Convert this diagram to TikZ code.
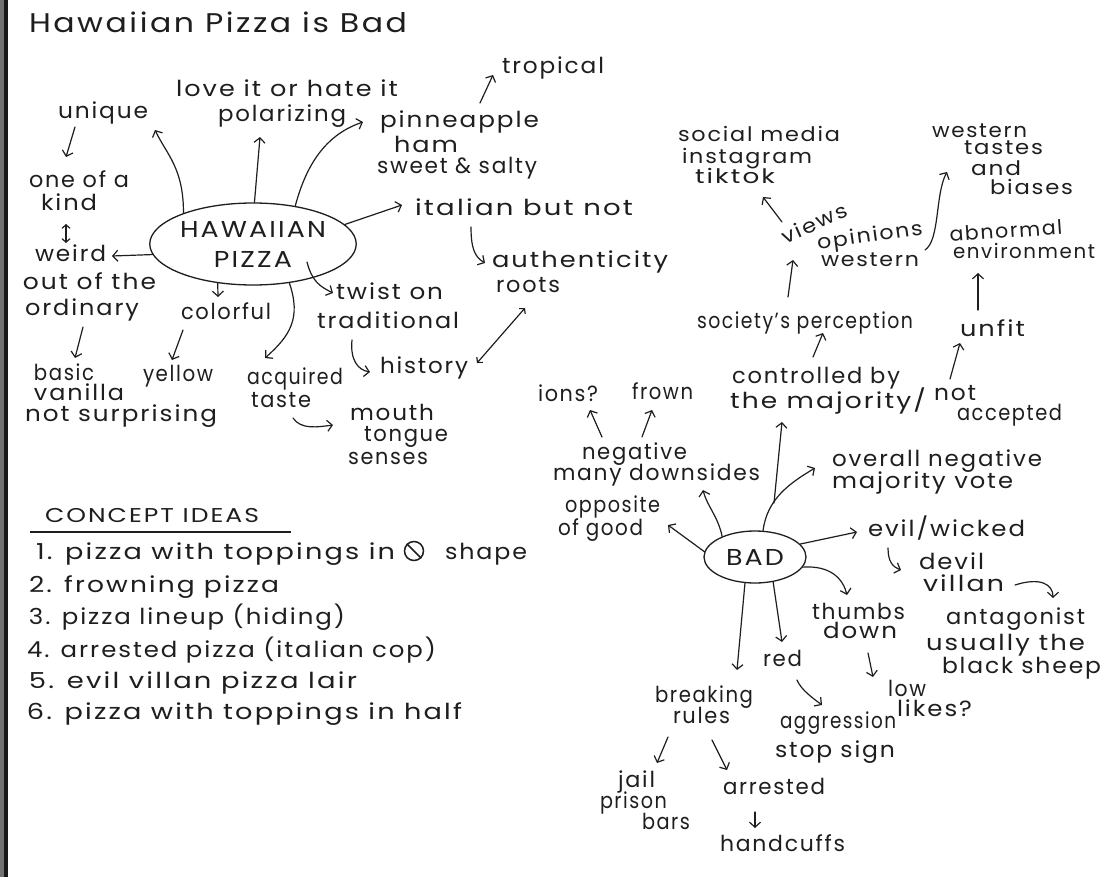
\documentclass[tikz,border=0pt]{standalone}
\usepackage{fontspec}
\setmainfont{Poppins}[LetterSpace=8]
\usepackage{graphicx}
\usetikzlibrary{arrows.meta,shapes.geometric,calc}
\definecolor{ink}{HTML}{1E1E1E}
\newcommand\fitw[2]{\resizebox{#1pt}{\height}{#2}}
\begin{document}
\begin{tikzpicture}[x=1pt,y=-1pt,
  txt/.style={inner sep=0pt, outer sep=0pt, anchor=base west, text=ink, font=\fontsize{22}{26}\selectfont},
  sml/.style={txt, font=\fontsize{20}{24}\selectfont},
  arr/.style={draw=ink, line width=1.2pt, line cap=round, -{Straight Barb[length=5pt,width=11pt]}},
  darr/.style={draw=ink, line width=1.2pt, line cap=round, {Straight Barb[length=3.5pt,width=8pt]}-{Straight Barb[length=3.5pt,width=8pt]}},
  bubble/.style={ellipse, draw=ink, line width=1.3pt, inner sep=0pt, text=ink, align=center, font=\fontsize{23}{30}\selectfont}
]
\useasboundingbox (0,0) rectangle (1105,877);
\fill[white] (0,0) rectangle (1105,877);
\fill[black!55] (0,0) rectangle (4,877);
\fill[black!90] (4,0) rectangle (7.5,877);

% title
\node[txt, font=\fontsize{27}{30}\selectfont] (title) at (29,33) {\fitw{378}{Hawaiian Pizza is Bad}};

% ---------- Hawaiian pizza map ----------
\node[bubble, minimum width=194pt, minimum height=82pt] (hp) at (253,244) {\fitw{146}{HAWAIIAN}\\\fitw{78}{PIZZA}};

\node[txt] (unique) at (58,119) {\fitw{90}{unique}};
\node[txt] (love) at (176,97) {\fitw{222}{love it or hate it}};
\node[txt] (polar) at (218,122) {\fitw{128}{polarizing}};
\node[txt] (trop) at (502,74) {\fitw{102}{tropical}};
\node[txt] (pinn) at (380,128) {\fitw{159}{pinneapple}};
\node[txt] (ham) at (394,153) {\fitw{64}{ham}};
\node[txt] (sweet) at (377,174) {\fitw{160}{sweet \& salty}};
\node[txt] (one) at (29,188) {\fitw{100}{one of a}};
\node[txt] (kind) at (41,211) {\fitw{56}{kind}};
\node[txt] (weird) at (35,262) {\fitw{71}{weird}};
\node[txt] (outof) at (23,289) {\fitw{133}{out of the}};
\node[txt] (ordin) at (25,316) {\fitw{114}{ordinary}};
\node[txt] (color) at (181,319) {\fitw{90}{colorful}};
\node[txt] (twist) at (336,299) {\fitw{107}{twist on}};
\node[txt] (trad) at (317,328) {\fitw{142}{traditional}};
\node[txt] (ital) at (415,216) {\fitw{218}{italian but not}};
\node[txt] (auth) at (492,268) {\fitw{176}{authenticity}};
\node[txt] (roots) at (496,292) {\fitw{64}{roots}};
\node[txt] (basic) at (34,380) {\fitw{60}{basic}};
\node[txt] (vanil) at (34,400) {\fitw{90}{vanilla}};
\node[txt] (notsur) at (25,421) {\fitw{192}{not surprising}};
\node[txt] (yellow) at (143,381) {\fitw{70}{yellow}};
\node[txt] (acq) at (247,384) {\fitw{96}{acquired}};
\node[txt] (taste) at (251,407) {\fitw{60}{taste}};
\node[txt] (hist) at (380,373) {\fitw{88}{history}};
\node[txt] (mouth) at (350,420) {\fitw{84}{mouth}};
\node[txt] (tongue) at (364,441) {\fitw{84}{tongue}};
\node[txt] (senses) at (348,464) {\fitw{80}{senses}};

\draw[arr] (hp.156) .. controls +(0,-45) and +(12,25) .. ($(unique.base west)+(97,11)$);
\draw[arr] (hp.88) -- ($(polar.base west)+(42,15)$);
\draw[arr] (hp.42) .. controls +(12,-45) and +(-35,12) .. ($(pinn.base west)+(-17,-6)$);
\draw[arr] (hp.186) -- ($(weird.base west)+(77,-6)$);
\draw[arr] ($(unique.base west)+(17,8)$) -- ($(one.base west)+(37,-31)$);
\draw[darr] ($(kind.base west)+(25,13)$) -- ($(weird.base west)+(31,-19)$);
\draw[arr] ($(ordin.base west)+(58,11)$) -- ($(basic.base west)+(41,-22)$);
\draw[arr] (hp.228) -- ($(color.base west)+(37,-22)$);
\draw[arr] ($(color.base west)+(2,11)$) -- ($(yellow.base west)+(29,-21)$);
\draw[arr] (hp.313) .. controls +(12,35) and +(25,-22) .. ($(acq.base west)+(18,-26)$);
\draw[arr] ($(hp.center)+(54,18)$) .. controls +(5,20) and +(-12,-6) .. ($(twist.base west)+(-3,-6)$);
\draw[arr] (hp.12) -- ($(ital.base west)+(-13,-11)$);
\draw[arr] ($(ital.base west)+(56,11)$) .. controls +(0,22) and +(-10,-6) .. ($(auth.base west)+(-7,-5)$);
\draw[arr] ($(trad.base west)+(35,12)$) .. controls +(-2,20) and +(-12,-2) .. ($(hist.base west)+(-10,-1)$);
\draw[darr] ($(hist.base west)+(97,-10)$) -- ($(roots.base west)+(29,16)$);
\draw[arr] ($(taste.base west)+(42,11)$) .. controls +(8,12) and +(-15,2) .. ($(mouth.base west)+(-17,5)$);
\draw[arr] ($(pinn.base west)+(100,-25)$) -- ($(trop.base west)+(-9,1)$);

% ---------- concept ideas ----------
\node[txt, font=\fontsize{20}{24}\selectfont] (concept) at (45,522) {\fitw{214}{CONCEPT IDEAS}};
\draw[ink, line width=1.1pt] ($(concept.base west)+(-15,10)$) -- ($(concept.base west)+(246,10)$);
\node[txt] (c1) at (36,559) {\fitw{359}{1. pizza with toppings in}};
\node[circle, draw=ink, line width=1.5pt, minimum size=19pt, inner sep=0pt] (nosign) at (414,551) {};
\draw[ink, line width=1.5pt] (nosign.135) -- (nosign.-45);
\node[txt] (c1b) at (445,559) {\fitw{82}{shape}};
\node[txt] (c2) at (29,592) {\fitw{250}{2. frowning pizza}};
\node[txt] (c3) at (29,624) {\fitw{316}{3. pizza lineup (hiding)}};
\node[txt] (c4) at (27,657) {\fitw{409}{4. arrested pizza (italian cop)}};
\node[txt] (c5) at (29,688) {\fitw{328}{5. evil villan pizza lair}};
\node[txt] (c6) at (27,719) {\fitw{435}{6. pizza with toppings in half}};

% ---------- BAD map ----------
\node[bubble, minimum width=102pt, minimum height=52pt] (bad) at (755,557) {\fitw{58}{BAD}};

\node[sml] (social) at (678,142) {\fitw{162}{social media}};
\node[sml] (insta) at (682,164) {\fitw{130}{instagram}};
\node[sml] (tiktok) at (695,184) {\fitw{80}{tiktok}};
\node[sml, anchor=center, rotate=24] (views) at (814,223) {\fitw{70}{views}};
\node[sml, anchor=center, rotate=8] (opin) at (870,237) {\fitw{106}{opinions}};
\node[sml] (westb) at (821,267) {\fitw{98}{western}};
\node[sml] (westt) at (932,138) {\fitw{95}{western}};
\node[sml] (tastes) at (964,155) {\fitw{79}{tastes}};
\node[sml] (and) at (971,176) {\fitw{50}{and}};
\node[sml] (biases) at (990,195) {\fitw{83}{biases}};
\node[sml, rotate=4] (abn) at (950,242) {\fitw{113}{abnormal}};
\node[sml] (env) at (953,259) {\fitw{142}{environment}};
\node[txt] (unfit) at (960,336) {\fitw{65}{unfit}};
\node[txt] (soc) at (697,328) {\fitw{216}{society's perception}};
\node[txt] (contr) at (732,383) {\fitw{168}{controlled by}};
\node[txt] (maj) at (730,408) {\fitw{196}{the majority/}};
\node[txt] (notw) at (934,400) {\fitw{42}{not}};
\node[txt] (accep) at (957,420) {\fitw{105}{accepted}};
\node[txt] (ions) at (538,401) {\fitw{60}{ions?}};
\node[txt] (frown) at (632,399) {\fitw{61}{frown}};
\node[txt] (neg) at (582,459) {\fitw{105}{negative}};
\node[txt] (many) at (553,480) {\fitw{207}{many downsides}};
\node[txt] (oppo) at (565,512) {\fitw{95}{opposite}};
\node[txt] (ofgood) at (558,535) {\fitw{85}{of good}};
\node[txt] (overall) at (832,466) {\fitw{210}{overall negative}};
\node[txt] (majv) at (832,488) {\fitw{181}{majority vote}};
\node[txt] (evil) at (868,536) {\fitw{157}{evil/wicked}};
\node[txt] (devil) at (919,569) {\fitw{65}{devil}};
\node[txt] (villan) at (923,591) {\fitw{81}{villan}};
\node[txt] (antag) at (946,624) {\fitw{139}{antagonist}};
\node[txt] (usually) at (926,650) {\fitw{159}{usually the}};
\node[txt] (black) at (942,673) {\fitw{159}{black sheep}};
\node[txt] (thumbs) at (812,619) {\fitw{93}{thumbs}};
\node[txt] (down) at (823,638) {\fitw{74}{down}};
\node[txt] (red) at (763,666) {\fitw{39}{red}};
\node[txt] (low) at (888,696) {\fitw{38}{low}};
\node[txt] (likes) at (897,716) {\fitw{75}{likes?}};
\node[txt] (breakn) at (655,702) {\fitw{98}{breaking}};
\node[txt] (rules) at (673,723) {\fitw{57}{rules}};
\node[txt] (aggr) at (780,728) {\fitw{116}{aggression}};
\node[txt] (stop) at (775,757) {\fitw{120}{stop sign}};
\node[txt] (jail) at (618,787) {\fitw{37}{jail}};
\node[txt] (prison) at (600,808) {\fitw{67}{prison}};
\node[txt] (bars) at (642,829) {\fitw{48}{bars}};
\node[txt] (arrest) at (723,794) {\fitw{102}{arrested}};
\node[txt] (hand) at (720,851) {\fitw{125}{handcuffs}};

\draw[arr] ($(views.center)+(-32,-1)$) -- ($(tiktok.base west)+(68,13)$);
\draw[arr] ($(soc.base west)+(91,-31)$) -- ($(views.center)+(-21,37)$);
\draw[arr] ($(westb.base west)+(104,-17)$) .. controls +(15,-10) and +(-12,22) .. ($(westt.base west)+(15,34)$);
\draw[arr] ($(unfit.base west)+(18,-26)$) -- ($(env.base west)+(25,14)$);
\draw[arr] ($(notw.base west)+(16,-21)$) -- ($(unfit.base west)+(0,7)$);
\draw[arr] ($(contr.base west)+(81,-26)$) -- ($(soc.base west)+(126,5)$);
\draw[arr] ($(neg.base west)+(20,-22)$) -- ($(ions.base west)+(52,9)$);
\draw[arr] ($(neg.base west)+(60,-22)$) -- ($(frown.base west)+(20,11)$);
\draw[arr] (bad.148) .. controls +(-4,-20) and +(4,16) .. ($(many.base west)+(150,10)$);
\draw[arr] (bad.174) -- ($(ofgood.base west)+(110,-10)$);
\draw[arr] (bad.73) .. controls +(4,-32) and +(-25,15) .. ($(overall.base west)+(-17,2)$);
\coordinate (fork) at (774,503);
\draw[arr] (fork) -- ($(maj.base west)+(52,14)$);
\draw[arr] (bad.16) -- ($(evil.base west)+(-11,-4)$);
\draw[arr] ($(evil.base west)+(20,12)$) .. controls +(0,14) and +(-8,-3) .. ($(devil.base west)+(-18,1)$);
\draw[arr] ($(villan.base west)+(92,-6)$) .. controls +(25,-8) and +(0,-14) .. ($(antag.base west)+(107,-26)$);
\draw[arr] (bad.348) .. controls +(28,-2) and +(-4,-16) .. ($(thumbs.base west)+(35,-24)$);
\draw[arr] (bad.249) -- ($(breakn.base west)+(82,-32)$);
\draw[arr] (bad.306) -- ($(red.base west)+(19,-24)$);
\draw[arr] ($(down.base west)+(45,15)$) -- ($(low.base west)+(-15,-19)$);
\draw[arr] ($(red.base west)+(34,14)$) .. controls +(4,10) and +(-8,-6) .. ($(aggr.base west)+(42,-23)$);
\draw[arr] ($(rules.base west)+(-5,14)$) -- ($(jail.base west)+(39,-24)$);
\draw[arr] ($(rules.base west)+(39,17)$) -- ($(arrest.base west)+(4,-24)$);
\draw[arr] ($(arrest.base west)+(32,18)$) -- ($(hand.base west)+(35,-23)$);
\end{tikzpicture}
\end{document}
